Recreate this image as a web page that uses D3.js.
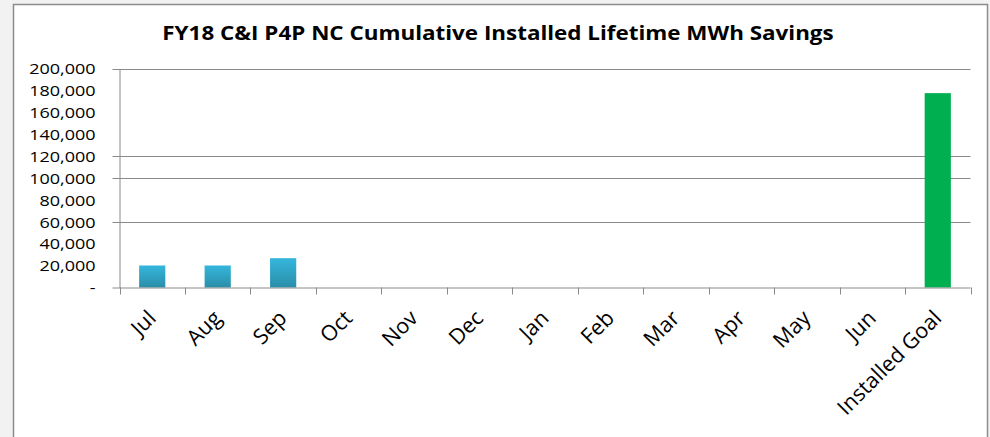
<!DOCTYPE html>
<html><head><meta charset="utf-8">
<script src="https://cdn.jsdelivr.net/npm/d3@7"></script>
<style>
body{margin:0;background:#f2f2f2;}
svg{display:block;}
text{font-family:"Open Sans",sans-serif;fill:#000;}
</style></head>
<body><svg id="c" width="990" height="437"></svg>
<script>
const title = "FY18 C&I P4P NC Cumulative Installed Lifetime MWh Savings";
const categories = ["Jul","Aug","Sep","Oct","Nov","Dec","Jan","Feb","Mar","Apr","May","Jun","Installed Goal"];
const values = [20100, 20100, 26800, 0, 0, 0, 0, 0, 0, 0, 0, 0, 177500];
const yTicks = [0,20000,40000,60000,80000,100000,120000,140000,160000,180000,200000];
const gridValues = [60000,100000,120000,200000];

const svg = d3.select("#c");
svg.append("rect").attr("x",13.5).attr("y",4.5).attr("width",974).attr("height",440)
  .attr("fill","#fff").attr("stroke","#8c8c8c").attr("stroke-width",1.5);

const m = {l:119.5, r:970.5, t:68.5, b:287.5};
const x = d3.scaleBand().domain(categories).range([m.l,m.r]).paddingInner(0.6).paddingOuter(0.3);
const y = d3.scaleLinear().domain([0,200000]).range([m.b,m.t]);

const defs = svg.append("defs");
const g1 = defs.append("linearGradient").attr("id","gb").attr("x1",0).attr("y1",0).attr("x2",0).attr("y2",1);
g1.append("stop").attr("offset","0%").attr("stop-color","#35b6dc");
g1.append("stop").attr("offset","100%").attr("stop-color","#2a8ea9");

// gridlines
svg.append("g").selectAll("line").data(gridValues).join("line")
  .attr("x1",m.l-7).attr("x2",m.r).attr("y1",d=>Math.round(y(d))+0.5).attr("y2",d=>Math.round(y(d))+0.5)
  .attr("stroke","#8a8a8a").attr("stroke-width",1);

// y axis
const ya = d3.axisLeft(y).tickValues(yTicks).tickSize(0).tickPadding(0)
  .tickFormat(d=> d===0 ? "-" : d3.format(",")(d));
const yg = svg.append("g").attr("transform",`translate(${m.l},0)`).call(ya);
yg.select(".domain").attr("stroke","#8a8a8a");
yg.selectAll(".tick text").attr("x",null)
  .attr("transform","translate(-24,0) scale(1.2,1)")
  .style("font-size","15px").attr("dy","0.35em");

// bars
svg.append("g").selectAll("rect").data(categories.map((c,i)=>({c,v:values[i]})).filter(d=>d.v>0)).join("rect")
  .attr("x",d=>x(d.c)).attr("width",x.bandwidth())
  .attr("y",d=>y(d.v)).attr("height",d=>y(0)-y(d.v))
  .attr("fill",d=>d.c==="Installed Goal" ? "#00b050" : "url(#gb)");

// x axis
const step = x.step();
const xa = svg.append("g");
xa.append("line").attr("x1",m.l-7).attr("x2",m.r).attr("y1",m.b+0.5).attr("y2",m.b+0.5).attr("stroke","#8a8a8a");
const tickPos = d3.range(categories.length+1).map(i=>m.l+i*step);
xa.selectAll("line.t").data(tickPos).join("line").attr("class","t")
  .attr("x1",d=>Math.round(d)+0.5).attr("x2",d=>Math.round(d)+0.5).attr("y1",m.b).attr("y2",m.b+7).attr("stroke","#8a8a8a");
xa.selectAll("text").data(categories).join("text")
  .attr("text-anchor","end")
  .attr("transform",d=>`translate(${x(d)+x.bandwidth()/2+5},${m.b+32}) rotate(-45)`)
  .style("font-size","21.5px")
  .text(d=>d);

svg.append("text").attr("text-anchor","middle")
  .attr("transform","translate(498,40) scale(1.18,1)")
  .style("font-size","19px").style("font-weight","bold").text(title);
</script></body></html>
